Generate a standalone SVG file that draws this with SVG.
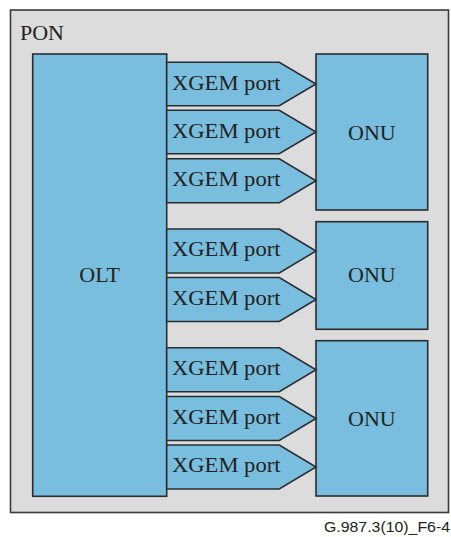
<svg xmlns="http://www.w3.org/2000/svg" width="451" height="537" viewBox="0 0 451 537">
<style>
.box{fill:#79BEDE;stroke:#2a2d30;stroke-width:1.6}
.frame{fill:#DCDCDC;stroke:#3a3a3a;stroke-width:1.6}
.t{font-family:"Liberation Serif","Times New Roman",serif;font-size:22px;fill:#222}
.p{font-family:"Liberation Serif","Times New Roman",serif;font-size:22px;fill:#222}
.f{font-family:"Liberation Sans",Arial,sans-serif;font-size:15.5px;fill:#222}
</style>
<rect width="451" height="537" fill="#ffffff"/>
<g id="pon">
<rect class="frame" x="10.5" y="10" width="438" height="502.5"/>
<text class="t" x="20" y="40">PON</text>
</g>
<g id="olt">
<rect class="box" x="32.7" y="54" width="134" height="442.3"/>
<text class="t" x="99.7" y="282.3" text-anchor="middle">OLT</text>
</g>
<g id="onu1">
<rect class="box" x="316" y="54" width="111.7" height="156"/>
<text class="t" x="371.9" y="140" text-anchor="middle">ONU</text>
</g>
<g id="onu2">
<rect class="box" x="316" y="221.7" width="111.7" height="107.6"/>
<text class="t" x="371.9" y="282.3" text-anchor="middle">ONU</text>
</g>
<g id="onu3">
<rect class="box" x="316" y="340.7" width="111.7" height="155.3"/>
<text class="t" x="371.9" y="426" text-anchor="middle">ONU</text>
</g>
<g id="port1-1">
<polygon class="box" points="166.7,62.3 279.3,62.3 316,84 279.3,105.7 166.7,105.7"/>
<text class="p" x="172" y="89.5" textLength="108.5" lengthAdjust="spacingAndGlyphs">XGEM port</text>
</g>
<g id="port1-2">
<polygon class="box" points="166.7,110.3 279.3,110.3 316,132 279.3,153.7 166.7,153.7"/>
<text class="p" x="172" y="137.5" textLength="108.5" lengthAdjust="spacingAndGlyphs">XGEM port</text>
</g>
<g id="port1-3">
<polygon class="box" points="166.7,158.8 279.3,158.8 316,180.8 279.3,202.8 166.7,202.8"/>
<text class="p" x="172" y="186" textLength="108.5" lengthAdjust="spacingAndGlyphs">XGEM port</text>
</g>
<g id="port2-1">
<polygon class="box" points="166.7,229 279.3,229 316,251 279.3,273 166.7,273"/>
<text class="p" x="172" y="256.3" textLength="108.5" lengthAdjust="spacingAndGlyphs">XGEM port</text>
</g>
<g id="port2-2">
<polygon class="box" points="166.7,277.5 279.3,277.5 316,299.5 279.3,321.5 166.7,321.5"/>
<text class="p" x="172" y="304.8" textLength="108.5" lengthAdjust="spacingAndGlyphs">XGEM port</text>
</g>
<g id="port3-1">
<polygon class="box" points="166.7,347.7 279.3,347.7 316,369.7 279.3,391.7 166.7,391.7"/>
<text class="p" x="172" y="375" textLength="108.5" lengthAdjust="spacingAndGlyphs">XGEM port</text>
</g>
<g id="port3-2">
<polygon class="box" points="166.7,396.5 279.3,396.5 316,418.5 279.3,440.5 166.7,440.5"/>
<text class="p" x="172" y="423.8" textLength="108.5" lengthAdjust="spacingAndGlyphs">XGEM port</text>
</g>
<g id="port3-3">
<polygon class="box" points="166.7,445 279.3,445 316,467 279.3,489 166.7,489"/>
<text class="p" x="172" y="472.3" textLength="108.5" lengthAdjust="spacingAndGlyphs">XGEM port</text>
</g>
<g id="connectors"></g>
<text class="f" x="450" y="532.3" text-anchor="end" textLength="126" lengthAdjust="spacingAndGlyphs">G.987.3(10)_F6-4</text>
</svg>
